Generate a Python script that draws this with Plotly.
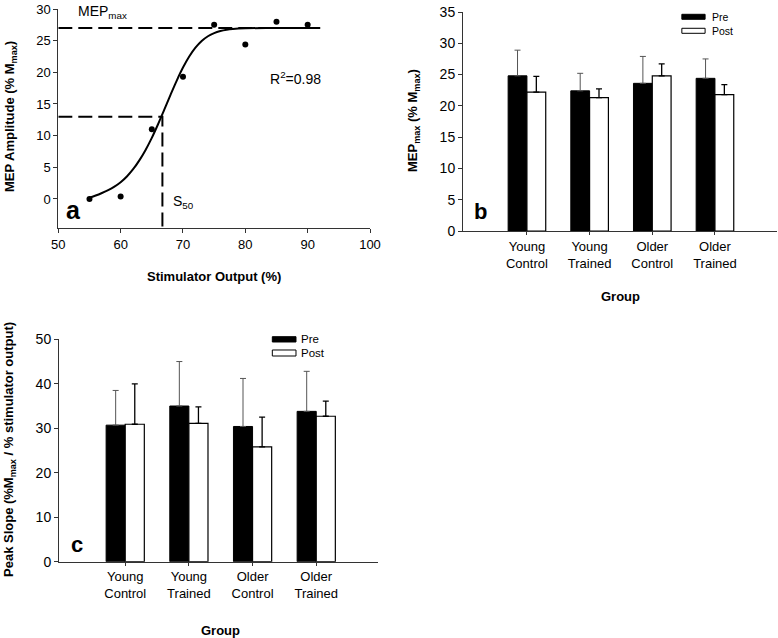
import plotly.graph_objects as go

W, H = 778, 638
FONT = "Liberation Sans, Arial, sans-serif"

# ---------------- Panel a data ----------------
stim_x = [55, 60, 65, 70, 75, 80, 85, 90]
mep_y = [0.0, 0.4, 11.0, 19.3, 27.5, 24.4, 28.0, 27.5]
fit_x = [55, 56, 57, 58, 59, 60, 61, 62, 63, 64, 65, 66, 67, 68, 69, 70, 71, 72, 73, 74, 75, 76, 77, 78, 80, 84, 92]
fit_y = [0.2, 0.55, 0.95, 1.4, 1.95, 2.65, 3.55, 4.7, 6.1, 7.75, 9.65, 11.8, 14.1, 16.45, 18.7, 20.75, 22.5, 23.9, 24.95, 25.7, 26.2, 26.52, 26.72, 26.84, 26.95, 27.0, 27.0]
mep_max = 27.0
half_max = 13.0
s50 = 66.7
fit_end = 92

# ---------------- Panel b / c data ----------------
groups = ["Young<br>Control", "Young<br>Trained", "Older<br>Control", "Older<br>Trained"]
group_pos = [1, 2, 3, 4]
b_pre = [24.8, 22.4, 23.6, 24.4]
b_post = [22.2, 21.3, 24.8, 21.8]
b_pre_err = [4.1, 2.8, 4.3, 3.1]
b_post_err = [2.5, 1.4, 1.9, 1.6]
c_pre = [30.7, 35.0, 30.4, 33.8]
c_post = [30.9, 31.1, 25.8, 32.7]
c_pre_err = [7.8, 10.0, 10.8, 9.0]
c_post_err = [9.1, 3.7, 6.7, 3.4]

def px2x(px):
    return px / W

def px2y(py):
    return 1 - py / H

fig = go.Figure()

DASH = "14px,6px"
YMIN_A = -4.63

# Panel a
fig.add_trace(go.Scatter(x=[50, fit_end], y=[mep_max, mep_max], mode="lines",
                         line=dict(color="black", width=2, dash=DASH), xaxis="x", yaxis="y",
                         showlegend=False, hoverinfo="skip"))
fig.add_trace(go.Scatter(x=[50, s50, s50], y=[half_max, half_max, YMIN_A], mode="lines",
                         line=dict(color="black", width=2, dash=DASH), xaxis="x", yaxis="y",
                         showlegend=False, hoverinfo="skip"))
fig.add_trace(go.Scatter(x=fit_x, y=fit_y, mode="lines", line=dict(color="black", width=2, shape="spline"),
                         xaxis="x", yaxis="y", showlegend=False))
fig.add_trace(go.Scatter(x=stim_x, y=mep_y, mode="markers", marker=dict(color="black", size=6),
                         xaxis="x", yaxis="y", showlegend=False))

# Bars panel b and c
def add_bars(pre, post, pre_err, post_err, xa, ya):
    fig.add_trace(go.Bar(x=group_pos, y=pre, name="Pre", marker=dict(color="black", line=dict(color="black", width=1)),
                         error_y=dict(type="data", array=pre_err, symmetric=False, arrayminus=[0]*4,
                                      color="#555555", thickness=1, width=3),
                         xaxis=xa, yaxis=ya, showlegend=False, offsetgroup="pre"))
    fig.add_trace(go.Bar(x=group_pos, y=post, name="Post", marker=dict(color="white", line=dict(color="black", width=1.2)),
                         error_y=dict(type="data", array=post_err, symmetric=False, arrayminus=[0]*4,
                                      color="black", thickness=1.3, width=3),
                         xaxis=xa, yaxis=ya, showlegend=False, offsetgroup="post"))

add_bars(b_pre, b_post, b_pre_err, b_post_err, "x2", "y2")
add_bars(c_pre, c_post, c_pre_err, c_post_err, "x3", "y3")

axcol = "#333333"
tickfont13 = dict(family=FONT, size=13, color="black")
tickfont14 = dict(family=FONT, size=14, color="black")

common = dict(showline=True, linecolor=axcol, linewidth=1, showgrid=False, zeroline=False,
              ticks="outside", tickcolor=axcol, ticklen=4, automargin=False)

layout = dict(
    template="none",
    width=W, height=H, margin=dict(l=0, r=0, t=0, b=0, pad=0),
    paper_bgcolor="white", plot_bgcolor="white",
    barmode="group", bargap=0.4, bargroupgap=0,
    font=dict(family=FONT, color="black"),
    xaxis=dict(domain=[px2x(58.3), px2x(370)], range=[50, 100], tickvals=[50, 60, 70, 80, 90, 100],
               tickfont=tickfont13, anchor="y", **common),
    yaxis=dict(domain=[px2y(228.3), px2y(9)], range=[YMIN_A, 30], tickvals=[0, 5, 10, 15, 20, 25, 30],
               tickfont=tickfont13, anchor="x", **common),
    xaxis2=dict(domain=[px2x(463), px2x(777)], range=[-0.02, 4.99], tickvals=group_pos, ticktext=groups,
                tickfont=tickfont13, anchor="y2", **{**common, "ticklen": 3}),
    yaxis2=dict(domain=[px2y(231), px2y(12)], range=[0, 35], tickvals=list(range(0, 36, 5)),
                tickfont=tickfont14, anchor="x2", **common),
    xaxis3=dict(domain=[px2x(59), px2x(378)], range=[-0.04, 4.97], tickvals=group_pos, ticktext=groups,
                tickfont=tickfont13, anchor="y3", **{**common, "ticklen": 3}),
    yaxis3=dict(domain=[px2y(561.7), px2y(339.3)], range=[0, 50], tickvals=list(range(0, 51, 10)),
                tickfont=tickfont14, anchor="x3", **common),
)
fig.update_layout(**layout)

ann = []
def text(px, py, s, size=13, bold=False, angle=0, xanchor="center", yanchor="middle"):
    if bold:
        s = "<b>" + s + "</b>"
    ann.append(dict(x=px2x(px), y=px2y(py), xref="paper", yref="paper", text=s, showarrow=False,
                    textangle=angle, xanchor=xanchor, yanchor=yanchor,
                    font=dict(family=FONT, size=size, color="black")))

# Axis titles
text(10, 117, "MEP Amplitude (% M<sub>max</sub>)", 13, True, -90)
text(214, 276, "Stimulator Output (%)", 13, True)
text(413, 121, "MEP<sub>max</sub> (% M<sub>max</sub>)", 13, True, -90)
text(620, 297, "Group", 13, True)
text(9, 450, "Peak Slope (%M<sub>max</sub> / % stimulator output)", 13, True, -90)
text(221, 630, "Group", 13, True)

# Panel a annotations
text(76, 12, "MEP<sub>max</sub>", 14, xanchor="left")
text(268, 78, "R<sup>2</sup>=0.98", 14, xanchor="left")
text(171, 202, "S<sub>50</sub>", 14, xanchor="left")
text(64, 210, "a", 25, True, xanchor="left")
text(472, 211, "b", 22, True, xanchor="left")
text(69, 544, "c", 22, True, xanchor="left")

# Manual legends
shapes = []
def legend(xref_dom, yref_dom, x0, x1, ypre, ypost, xt, ytpre, ytpost, size):
    shapes.append(dict(type="rect", xref=xref_dom, yref=yref_dom, x0=x0, x1=x1, y0=ypre[0], y1=ypre[1],
                       fillcolor="black", line=dict(color="black", width=1)))
    shapes.append(dict(type="rect", xref=xref_dom, yref=yref_dom, x0=x0, x1=x1, y0=ypost[0], y1=ypost[1],
                       fillcolor="white", line=dict(color="black", width=1)))
    for lab, yy in (("Pre", ytpre), ("Post", ytpost)):
        ann.append(dict(x=xt, y=yy, xref=xref_dom, yref=yref_dom, text=lab, showarrow=False,
                        xanchor="left", yanchor="middle", font=dict(family=FONT, size=size, color="black")))

legend("x2 domain", "y2 domain", 0.697, 0.771, (0.9667, 0.9895), (0.9027, 0.9256), 0.787, 0.978, 0.914, 10.5)
legend("x3 domain", "y3 domain", 0.6687, 0.7429, (0.9879, 1.0117), (0.9249, 0.9519), 0.752, 1.0013, 0.9397, 11.5)

fig.update_layout(annotations=ann, shapes=shapes)
fig.write_html("out.html", config={"displayModeBar": False},
               post_script="document.body.style.margin='0';document.body.style.overflow='hidden';")
